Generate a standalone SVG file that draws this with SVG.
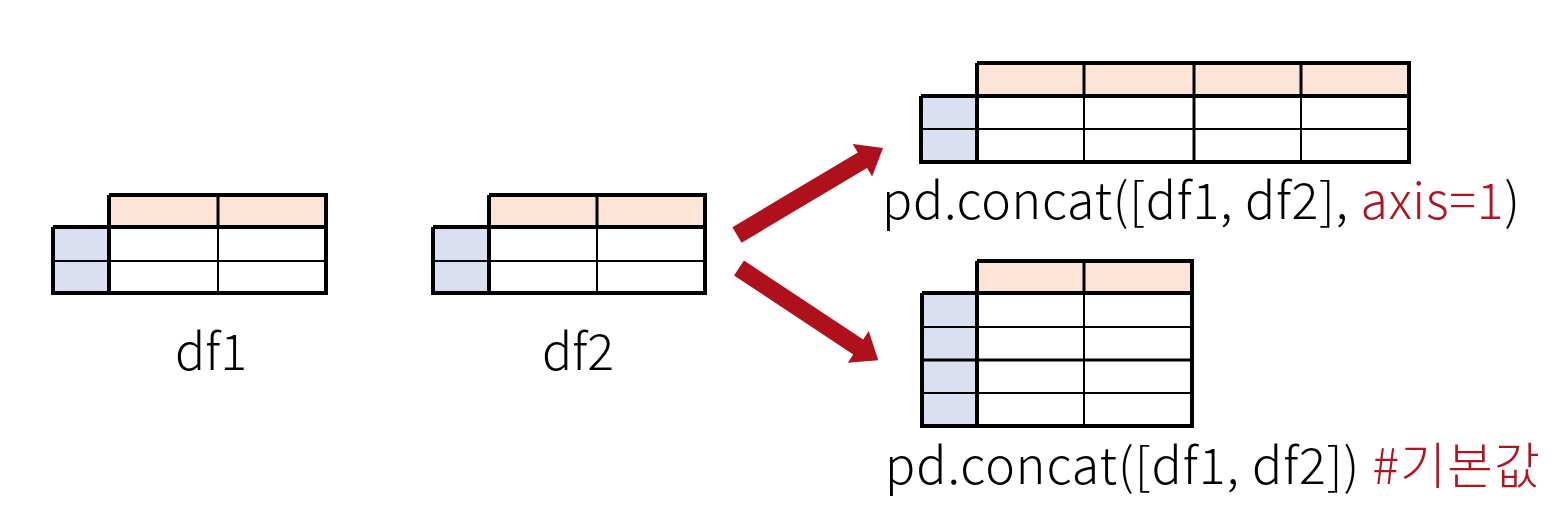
<svg xmlns="http://www.w3.org/2000/svg" width="1555" height="521" viewBox="0 0 1555 521">
<style>
.hdr{fill:#FCE4D6}
.idx{fill:#DAE0F2}
.thick{stroke:#000;stroke-width:4;fill:none}
.thin{stroke:#000;stroke-width:2;fill:none}
.arrow{fill:#AF111C}
.lbl{font-family:"Noto Sans CJK KR","Noto Sans",sans-serif;font-weight:300;font-size:50px;fill:#000}
.red{fill:#B0141F}
</style>
<rect width="1555" height="521" fill="#fff"/>
<g id="df1">
<rect class="hdr" x="109" y="195" width="217" height="32"/>
<rect class="idx" x="53" y="227" width="56" height="66"/>
<line class="thin" x1="109" y1="261" x2="326" y2="261"/>
<line class="thin" x1="218" y1="227" x2="218" y2="293"/>
<line class="thick" x1="218" y1="195" x2="218" y2="227" style="stroke-width:3"/>
<line class="thin" x1="53" y1="261" x2="109" y2="261"/>
<line class="thick" x1="109" y1="195" x2="109" y2="293"/>
<line class="thick" x1="53" y1="227" x2="326" y2="227"/>
<polyline class="thick" points="109,195 326,195 326,293 53,293 53,227"/>
<text class="lbl" x="211" y="370" text-anchor="middle">df1</text>
</g>
<g id="df2">
<rect class="hdr" x="489" y="195" width="216" height="32"/>
<rect class="idx" x="433" y="227" width="56" height="66"/>
<line class="thin" x1="489" y1="261" x2="705" y2="261"/>
<line class="thin" x1="597" y1="227" x2="597" y2="293"/>
<line class="thick" x1="597" y1="195" x2="597" y2="227" style="stroke-width:3"/>
<line class="thin" x1="433" y1="261" x2="489" y2="261"/>
<line class="thick" x1="489" y1="195" x2="489" y2="293"/>
<line class="thick" x1="433" y1="227" x2="705" y2="227"/>
<polyline class="thick" points="489,195 705,195 705,293 433,293 433,227"/>
<text class="lbl" x="578" y="370" text-anchor="middle">df2</text>
</g>
<g id="result-axis1">
<rect class="hdr" x="977" y="63" width="432" height="33"/>
<rect class="idx" x="921" y="96" width="56" height="66"/>
<line class="thin" x1="977" y1="129" x2="1409" y2="129"/>
<line class="thin" x1="1084" y1="96" x2="1084" y2="162"/>
<line class="thin" x1="1301" y1="96" x2="1301" y2="162"/>
<line class="thick" x1="1194" y1="96" x2="1194" y2="162" style="stroke-width:3"/>
<line class="thick" x1="1084" y1="63" x2="1084" y2="96" style="stroke-width:3"/>
<line class="thick" x1="1194" y1="63" x2="1194" y2="96" style="stroke-width:3"/>
<line class="thick" x1="1301" y1="63" x2="1301" y2="96" style="stroke-width:3"/>
<line class="thin" x1="921" y1="129" x2="977" y2="129"/>
<line class="thick" x1="977" y1="63" x2="977" y2="162"/>
<line class="thick" x1="921" y1="96" x2="1409" y2="96"/>
<polyline class="thick" points="977,63 1409,63 1409,162 921,162 921,96"/>
<text class="lbl" x="882" y="219" textLength="638" lengthAdjust="spacing">pd.concat([df1, df2], <tspan class="red">axis=1</tspan>)</text>
</g>
<g id="result-axis0">
<rect class="hdr" x="977" y="261" width="215" height="32"/>
<rect class="idx" x="922" y="293" width="55" height="133"/>
<line class="thin" x1="922" y1="327" x2="1192" y2="327"/>
<line class="thick" x1="922" y1="360" x2="1192" y2="360" style="stroke-width:3"/>
<line class="thin" x1="922" y1="393" x2="1192" y2="393"/>
<line class="thin" x1="1084" y1="293" x2="1084" y2="426"/>
<line class="thick" x1="1084" y1="261" x2="1084" y2="293" style="stroke-width:3"/>
<line class="thick" x1="977" y1="261" x2="977" y2="426"/>
<line class="thick" x1="922" y1="293" x2="1192" y2="293"/>
<polyline class="thick" points="977,261 1192,261 1192,426 922,426 922,293"/>
<text class="lbl" x="885" y="484" textLength="655" lengthAdjust="spacing">pd.concat([df1, df2]) <tspan class="red">#기본값</tspan></text>
</g>
<g id="connectors">
<polygon class="arrow" transform="translate(737,235) rotate(-30.8)" points="0,-9 146,-9 146,-19 170,0 146,19 146,9 0,9"/>
<polygon class="arrow" transform="translate(739,268) rotate(33.5)" points="0,-9 143,-9 143,-19 167,0 143,19 143,9 0,9"/>
</g>
</svg>
